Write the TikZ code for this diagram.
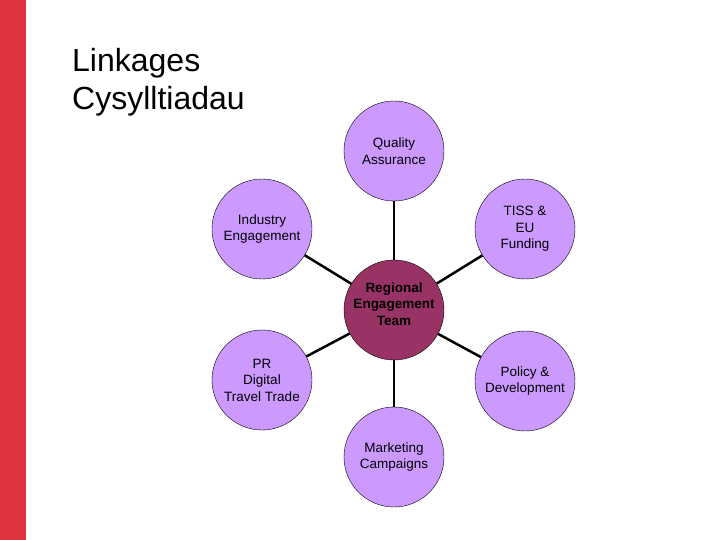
\documentclass[tikz,border=0pt]{standalone}
\usepackage{fontspec}
\setmainfont{Liberation Sans}
\usetikzlibrary{positioning}
\definecolor{barred}{HTML}{E0323F}
\definecolor{lilac}{HTML}{CC99FF}
\definecolor{plum}{HTML}{993366}
\tikzset{
    spoke/.style={circle, draw=black, fill=lilac, minimum size=100pt, inner sep=0pt,
        align=center, font=\fontsize{13.5}{16.5}\selectfont},
    hub/.style={spoke, fill=plum, text depth=12pt, font=\fontsize{13.5}{16.5}\selectfont\bfseries},
    link/.style={black, line width=2.5pt}
}
\begin{document}
\begin{tikzpicture}[x=1pt, y=-1pt]
    \useasboundingbox (0,0) rectangle (720,540);

    % side bar
    \fill[barred] (0,0) rectangle (26,540);

    % title
    \node[anchor=north west, align=left, inner sep=0pt,
        font=\fontsize{32}{38}\selectfont] (title) at (72,48) {Linkages\\Cysylltiadau};

    % centre
    \node[hub] (ret) at (394,310) {Regional\\Engagement\\Team};

    % outer circles
    \foreach \name/\x/\y/\txt in {
        qa/394/151/{Quality\\Assurance},
        ind/262/229/{Industry\\Engagement},
        tiss/525/229/{TISS \&\\EU\\Funding},
        pr/262/380/{PR\\Digital\\Travel Trade},
        pol/525/381/{Policy \&\\Development},
        mkt/394/457/{Marketing\\Campaigns}}{
        \node[spoke] (\name) at (\x,\y) {\txt};
    }

    % links
    \foreach \name in {qa, ind, tiss, pr, pol, mkt}
    {
        \draw[link] (ret) -- (\name);
    }
\end{tikzpicture}
\end{document}
